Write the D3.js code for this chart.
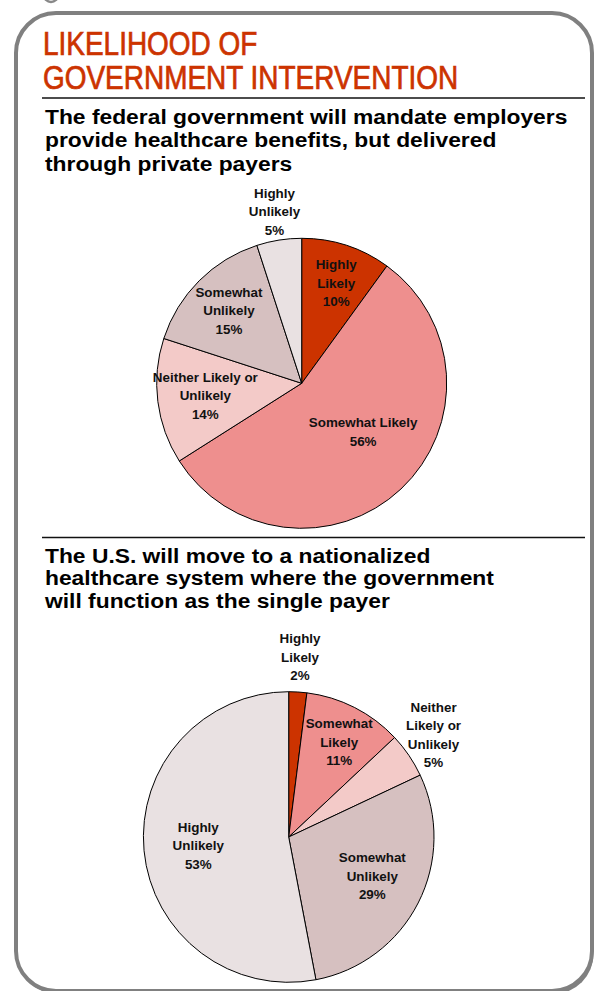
<!DOCTYPE html>
<html>
<head>
<meta charset="utf-8">
<script src="https://d3js.org/d3.v7.min.js"></script>
<style>
  html, body { margin: 0; padding: 0; background: #fff; }
  svg { display: block; }
</style>
</head>
<body>
<div id="chart"></div>
<script>
// --- data ---
const categories = ["Highly Likely", "Somewhat Likely", "Neither Likely or Unlikely", "Somewhat Unlikely", "Highly Unlikely"];
const federalValues = [10, 56, 14, 15, 5];
const nationalValues = [2, 11, 5, 29, 53];
const federalLabelLines = [["Highly", "Likely"], ["Somewhat Likely"], ["Neither Likely or", "Unlikely"], ["Somewhat", "Unlikely"], ["Highly", "Unlikely"]];
const nationalLabelLines = [["Highly", "Likely"], ["Somewhat", "Likely"], ["Neither", "Likely or", "Unlikely"], ["Somewhat", "Unlikely"], ["Highly", "Unlikely"]];
const titleLines = ["LIKELIHOOD OF", "GOVERNMENT INTERVENTION"];
const federalQuestion = ["The federal government will mandate employers", "provide healthcare benefits, but delivered", "through private payers"];
const nationalQuestion = ["The U.S. will move to a nationalized", "healthcare system where the government", "will function as the single payer"];

(function() {
  const width = 597, height = 991;
  const sliceColors = ["#cc3300", "#ee8f8e", "#f3cac8", "#d6c0c0", "#e9e1e2"];

  // label placement per slice: [radius factor, angle shift in degrees]
  const federalLabelPos = [[0.73, 1], [0.54, -8.5], [0.67, 0], [0.71, 0], [1.2, 0]];
  const nationalLabelPos = [[1.24, 0], [0.74, 1], [1.22, -1], [0.635, -2], [0.625, 0]];

  const svg = d3.select("#chart").append("svg")
    .attr("width", width)
    .attr("height", height)
    .attr("viewBox", `0 0 ${width} ${height}`);

  // small arc peeking in at the top
  svg.append("circle")
    .attr("cx", 51).attr("cy", -5).attr("r", 7)
    .attr("fill", "none").attr("stroke", "#888").attr("stroke-width", 2.5);

  // frame with a little shadow
  svg.append("rect")
    .attr("x", 17.5).attr("y", 16).attr("width", 576).attr("height", 978)
    .attr("rx", 40).attr("fill", "#808080");
  svg.append("rect")
    .attr("x", 16).attr("y", 13).attr("width", 576).attr("height", 978)
    .attr("rx", 40).attr("fill", "#fff")
    .attr("stroke", "#808080").attr("stroke-width", 4);

  // text helper: squeeze / stretch horizontally to the source font width
  function stretchText(sel, factor) {
    sel.each(function() {
      const len = this.getComputedTextLength();
      d3.select(this)
        .attr("textLength", len * factor)
        .attr("lengthAdjust", "spacingAndGlyphs");
    });
  }

  // title (condensed look, slightly heavier strokes)
  svg.append("g").selectAll("text")
    .data(titleLines).join("text")
    .attr("x", 43)
    .attr("y", (d, i) => 55 + i * 34.3)
    .attr("font-family", "'Liberation Sans', Arial, sans-serif")
    .attr("font-size", 32.5)
    .attr("fill", "#cc3300")
    .attr("stroke", "#cc3300")
    .attr("stroke-width", 0.7)
    .text(d => d)
    .call(stretchText, 0.86);

  // rules
  [98, 537.5].forEach(y => {
    svg.append("line")
      .attr("x1", 42).attr("x2", 585)
      .attr("y1", y).attr("y2", y)
      .attr("stroke", "#111").attr("stroke-width", 1.3);
  });

  function question(lines, y0, step) {
    svg.append("g").selectAll("text")
      .data(lines).join("text")
      .attr("x", 45)
      .attr("y", (d, i) => y0 + i * step)
      .attr("font-family", "'Liberation Sans', Arial, sans-serif")
      .attr("font-weight", "bold")
      .attr("font-size", 19.5)
      .attr("fill", "#000")
      .text(d => d)
      .call(stretchText, 1.17);
  }
  question(federalQuestion, 123.5, 23.5);
  question(nationalQuestion, 562.5, 22.5);

  // pies
  const pie = d3.pie().sort(null).value(d => d);

  function drawPie(values, labelLines, labelPos, cx, cy, r) {
    const arc = d3.arc().innerRadius(0).outerRadius(r);
    const g = svg.append("g").attr("transform", `translate(${cx},${cy})`);
    const arcs = pie(values);

    g.selectAll("path")
      .data(arcs).join("path")
      .attr("d", arc)
      .attr("fill", (d, i) => sliceColors[i])
      .attr("stroke", "#000")
      .attr("stroke-width", 1);

    const lineH = 18.5;
    arcs.forEach((d, i) => {
      const [f, shift] = labelPos[i];
      const a = (d.startAngle + d.endAngle) / 2 + shift * Math.PI / 180;
      const x = Math.sin(a) * r * f;
      const y = -Math.cos(a) * r * f;
      const lines = labelLines[i].concat([d.data + "%"]);
      const top = y - (lines.length - 1) * lineH / 2;
      g.append("g")
        .attr("data-category", categories[i])
        .selectAll("text")
        .data(lines).join("text")
        .attr("x", x)
        .attr("y", (t, k) => top + k * lineH)
        .attr("dy", "0.35em")
        .attr("text-anchor", "middle")
        .attr("font-family", "'Liberation Sans', Arial, sans-serif")
        .attr("font-weight", "bold")
        .attr("font-size", 13)
        .attr("fill", "#111")
        .text(t => t)
        .call(stretchText, 1.03);
    });
  }

  drawPie(federalValues, federalLabelLines, federalLabelPos, 301.7, 383.3, 145);
  drawPie(nationalValues, nationalLabelLines, nationalLabelPos, 288.7, 837, 145.3);
})();
</script>
</body>
</html>
